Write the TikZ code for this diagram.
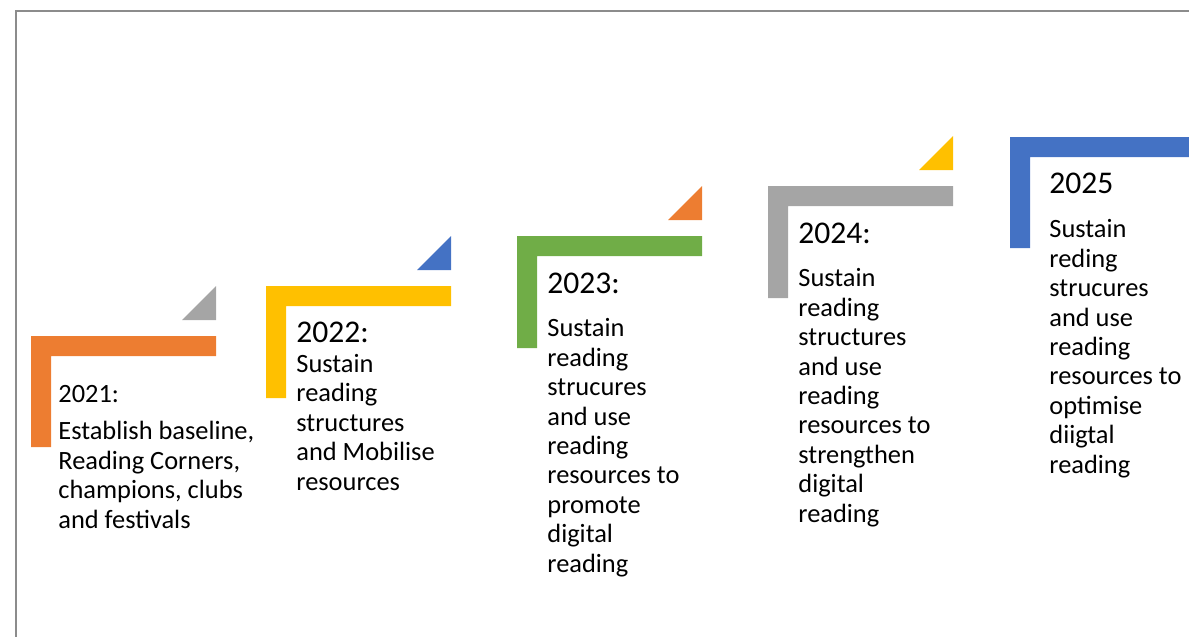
\documentclass[tikz,border=0pt]{standalone}
\usepackage{fontspec}
\setmainfont{Carlito}
\definecolor{steporange}{HTML}{ED7D31}
\definecolor{stepyellow}{HTML}{FFC000}
\definecolor{stepgreen}{HTML}{70AD47}
\definecolor{stepgray}{HTML}{A5A5A5}
\definecolor{stepblue}{HTML}{4472C4}
\definecolor{framegray}{HTML}{8C8C8C}
\begin{document}
\begin{tikzpicture}
[x=0.5pt,y=-0.5pt,
  framedecorate/.style={draw=framegray,line width=1pt},%
  yeardecorate/.style={anchor=base west,inner sep=0pt,font=\fontsize{15.8}{19.5}\selectfont},%
  smallyeardecorate/.style={anchor=base west,inner sep=0pt,font=\fontsize{13.2}{14.7}\selectfont},%
  textdecorate/.style={anchor=base west,inner sep=0pt,align=left,font=\fontsize{13.2}{14.7}\selectfont}]
\useasboundingbox (0,0) rectangle (1189,637);
% frame
\draw[framedecorate] (15.5,637) -- (15.5,10.5) -- (1189,10.5);
% steps
\fill[steporange] (31,336) -- (216,336) -- (216,356) -- (51,356) -- (51,447) -- (31,447) -- cycle;
\fill[stepyellow] (266,286) -- (451,286) -- (451,306) -- (286,306) -- (286,398) -- (266,398) -- cycle;
\fill[stepgreen] (517,236) -- (702,236) -- (702,256) -- (537,256) -- (537,348) -- (517,348) -- cycle;
\fill[stepgray] (768,186) -- (953,186) -- (953,206) -- (788,206) -- (788,298) -- (768,298) -- cycle;
\fill[stepblue] (1010,137) -- (1189,137) -- (1189,157) -- (1030,157) -- (1030,248) -- (1010,248) -- cycle;
% corner triangles
\fill[stepgray] (182,320) -- (216,286) -- (216,320) -- cycle;
\fill[stepblue] (417,270) -- (451,236) -- (451,270) -- cycle;
\fill[steporange] (668,220) -- (702,186) -- (702,220) -- cycle;
\fill[stepyellow] (919,170) -- (953,136) -- (953,170) -- cycle;
% years
\node (y2021) at (58,402) [smallyeardecorate] {2021:};
\node (y2022) at (296,342) [yeardecorate] {2022:};
\node (y2023) at (547,293) [yeardecorate] {2023:};
\node (y2024) at (798,243) [yeardecorate] {2024:};
\node (y2025) at (1049,193) [yeardecorate] {2025};
% descriptions (base = last line)
\node (t2021) at (58,528) [textdecorate] {Establish baseline,\\Reading Corners,\\champions, clubs\\and festivals};
\node (t2022) at (296,490) [textdecorate] {Sustain\\reading\\structures\\and Mobilise\\resources};
\node (t2023) at (547,572) [textdecorate] {Sustain\\reading\\strucures\\and use\\reading\\resources to\\promote\\digital\\reading};
\node (t2024) at (798,522) [textdecorate] {Sustain\\reading\\structures\\and use\\reading\\resources to\\strengthen\\digital\\reading};
\node (t2025) at (1049,473) [textdecorate] {Sustain\\reding\\strucures\\and use\\reading\\resources to\\optimise\\diigtal\\reading};
\end{tikzpicture}
\end{document}
